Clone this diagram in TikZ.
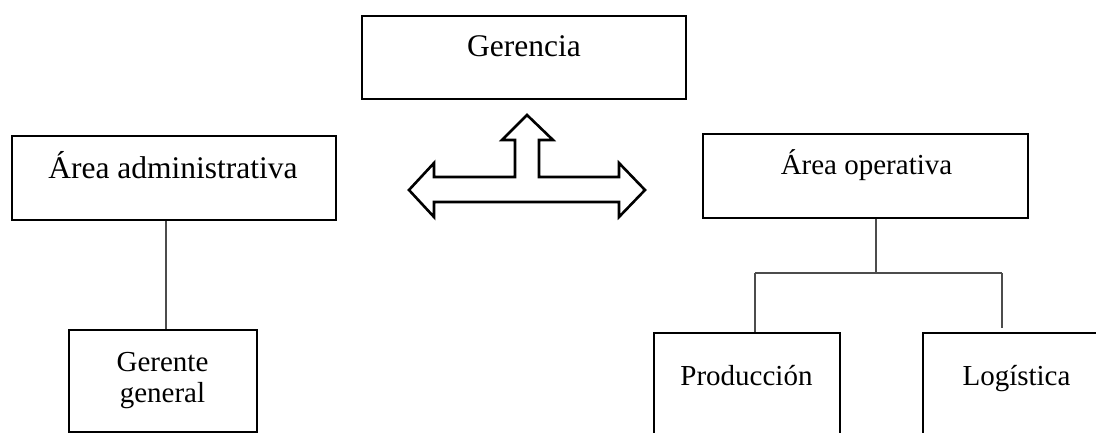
\documentclass[tikz,border=0pt]{standalone}
\usepackage{fontspec}
\setmainfont{Liberation Serif}
\usepackage{tikz}

\begin{document}
\begin{tikzpicture}
  [x=1pt,y=-1pt,
   box/.style={draw,line width=2.6pt,inner sep=0pt},
   lbl/.style={inner sep=0pt,anchor=base,font=\fontsize{29}{31}\selectfont},
   big/.style={lbl,font=\fontsize{31.5}{34}\selectfont},
   link/.style={draw=black!70,line width=1.5pt}]
  \useasboundingbox (0,0) rectangle (1096,433);
  \clip (0,0) rectangle (1096,433);

  % boxes
  \node[box,minimum width=324pt,minimum height=83pt] (ger) at (524,57.5) {};
  \node[box,minimum width=324pt,minimum height=84pt] (adm) at (174,178) {};
  \node[box,minimum width=325pt,minimum height=84pt] (ope) at (865.5,176) {};
  \node[box,minimum width=188pt,minimum height=102pt] (gg) at (163,381) {};
  \node[box,minimum width=186pt,minimum height=130pt] (prod) at (747,398) {};
  \node[box,minimum width=187pt,minimum height=130pt] (logi) at (1016.5,398) {};

  % texts
  \node[big] (tger) at (524,57) {Gerencia};
  \node[big] (tadm) at (173,179) {Área administrativa};
  \node[lbl] (tope) at (866.5,175) {Área operativa};
  \node[lbl] (tgg1) at (162.5,371) {Gerente};
  \node[lbl] (tgg2) at (162.5,402) {general};
  \node[lbl] (tprod) at (746.5,385) {Producción};
  \node[lbl] (tlogi) at (1016.5,385) {Logística};

  % lines
  \coordinate (pl) at (755,273);
  \coordinate (lr) at (1002,273);
  \draw[link] ([xshift=-8pt]adm.south) -- ([xshift=3pt]gg.north);
  \draw[link] ([xshift=10.5pt]ope.south) -- ([xshift=10.5pt]ope.south |- pl);
  \draw[link] (pl) -- (lr);
  \draw[link] (pl) -- (pl |- prod.north);
  \draw[link] (lr) -- ([yshift=4pt]lr |- logi.north);

  % three way arrow
  \draw[line width=2.6pt,line join=miter,fill=white]
    (409,190) -- (434,163) -- (434,177) -- (515,177) -- (515,140) -- (502,140)
    -- (527,115) -- (553,140) -- (539,140) -- (539,177) -- (619,177) -- (619,163)
    -- (645,190) -- (619,217) -- (619,202) -- (434,202) -- (434,217) -- cycle;
\end{tikzpicture}
\end{document}
